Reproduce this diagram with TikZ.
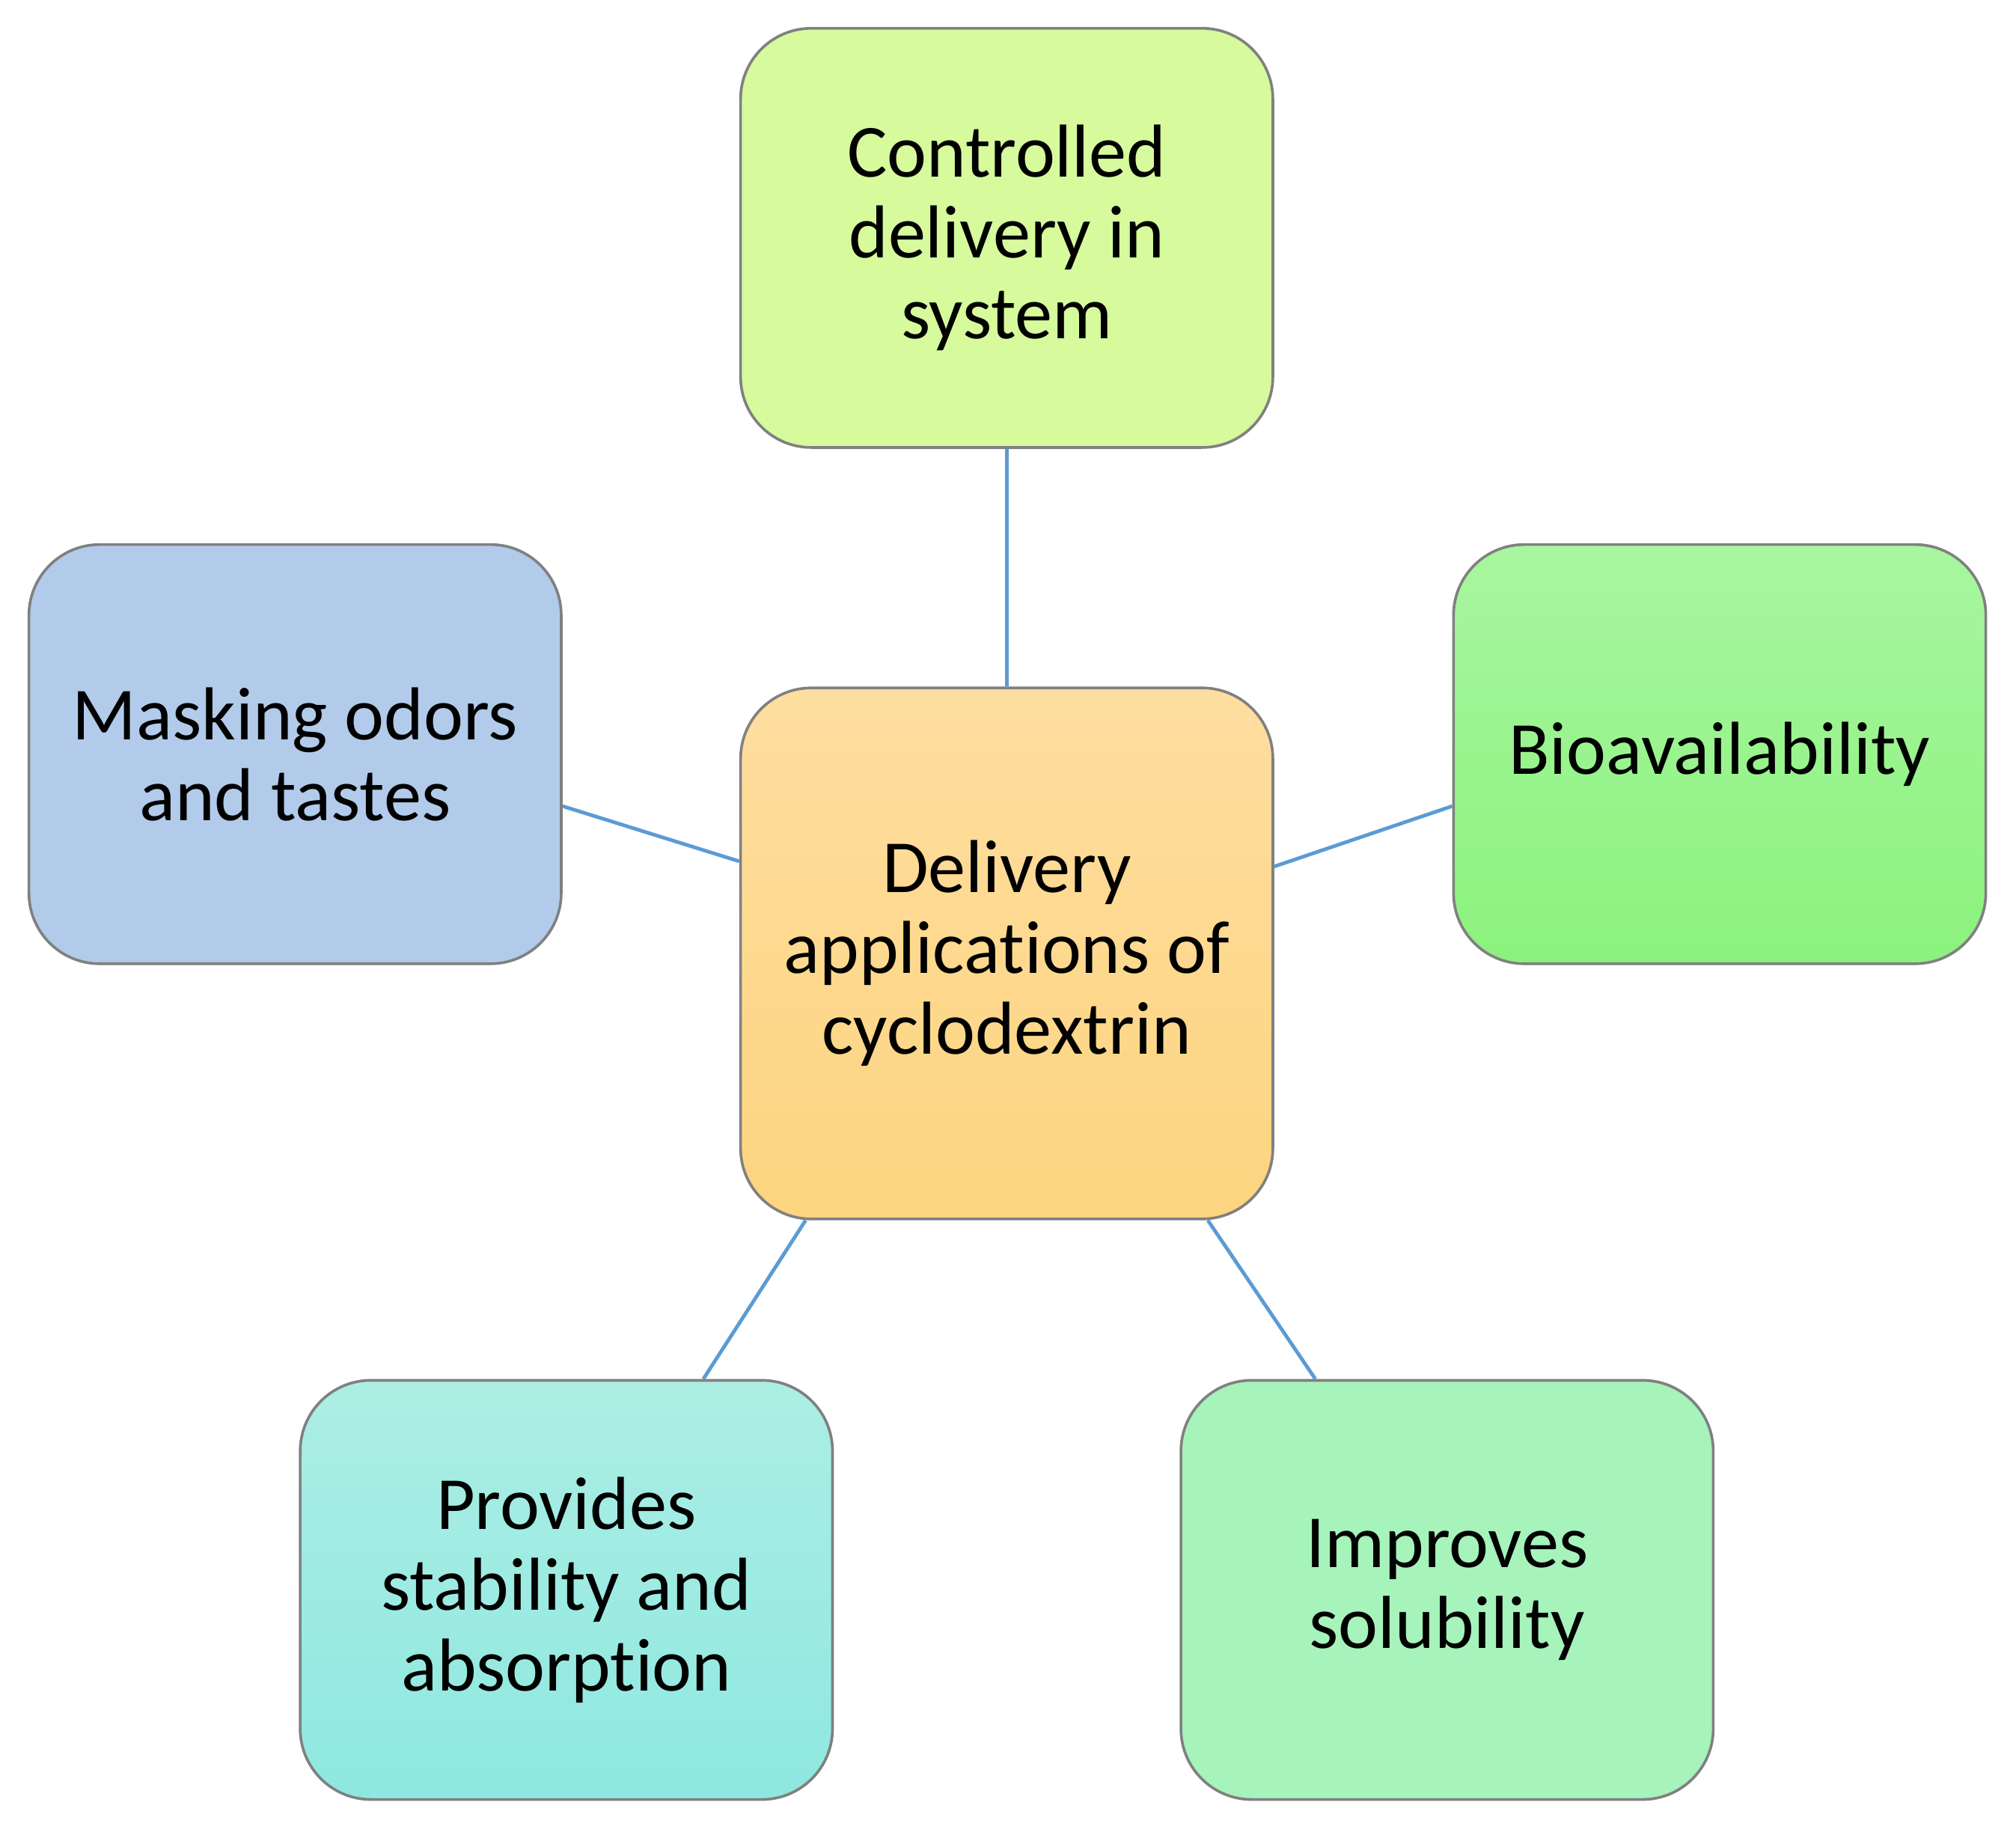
\documentclass[tikz,border=0pt]{standalone}
\usepackage{fontspec}
\setmainfont{Carlito}[Ligatures=NoCommon]
\begin{document}
\begin{tikzpicture}[
        box/.style={draw=black!50, line width=0.6pt, rounded corners=0.55cm,
            minimum width=4.14cm, minimum height=3.26cm, align=center,
            font=\fontsize{16.6}{17.9}\selectfont, inner sep=0pt},
        link/.style={line width=0.8pt, color={rgb,255:red,91;green,155;blue,213}}
    ]
        % Cornice
        \useasboundingbox (0,0) rectangle (15.68,-14.22);

        % Nodo centrale
        \node[box, minimum height=4.13cm, top color={rgb,255:red,254;green,222;blue,160},
            bottom color={rgb,255:red,253;green,212;blue,127}] (deliv) at (7.83,-7.415)
            {Delivery\\applications of\\cyclodextrin};

        % Nodi esterni
        \node[box, fill={rgb,255:red,214;green,250;blue,156}] (ctrl) at (7.83,-1.85)
            {Controlled\\delivery in\\system};
        \node[box, fill={rgb,255:red,178;green,203;blue,234}] (mask) at (2.295,-5.865)
            {Masking odors\\and tastes};
        \node[box, top color={rgb,255:red,168;green,246;blue,160},
            bottom color={rgb,255:red,139;green,242;blue,124}] (bio) at (13.375,-5.865)
            {Bioavailability};
        \node[box, top color={rgb,255:red,172;green,238;blue,228},
            bottom color={rgb,255:red,142;green,232;blue,224}] (prov) at (4.405,-12.365)
            {Provides\\stability and\\absorption};
        \node[box, fill={rgb,255:red,166;green,243;blue,187}] (impr) at (11.255,-12.365)
            {Improves\\solubility};

        % Collegamenti
        \draw[link] (ctrl.south) -- (deliv.north);
        \draw[link] (mask.-11.7) -- (deliv.161.8);
        \draw[link] (bio.191.7) -- (deliv.18.2);
        \draw[link] (prov.57.7) -- (deliv.233.9);
        \draw[link] (impr.122) -- (deliv.-53.9);
    \end{tikzpicture}
\end{document}
